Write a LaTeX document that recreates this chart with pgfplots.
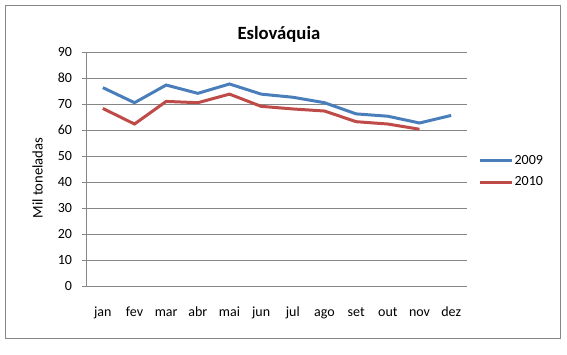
\documentclass[border=0pt]{standalone}
\usepackage{pgfplots}
\pgfplotsset{compat=1.18}
\usepackage{fontspec}
\setmainfont{Carlito}
\definecolor{exblue}{RGB}{74,126,187}
\definecolor{exred}{RGB}{190,75,72}
\definecolor{exgrey}{RGB}{134,134,134}
\begin{document}
\begin{tikzpicture}[x=0.75pt,y=0.75pt]
\useasboundingbox (0,0) rectangle (567,354);
\draw[exgrey, line width=0.75pt] (5,16) rectangle (560,348);
\begin{axis}[
  at={(87*0.75pt,68*0.75pt)}, anchor=south west,
  scale only axis, width=285pt, height=175.5pt,
  xmin=-0.5, xmax=11.5, ymin=0, ymax=90,
  ytick={0,10,...,90},
  xtick={0,...,11},
  xticklabels={jan,fev,mar,abr,mai,jun,jul,ago,set,out,nov,dez},
  major x tick style={draw=none},
  extra x ticks={-0.5,0.5,...,11.5},
  extra x tick labels={},
  extra x tick style={major tick length=3.5pt, tick align=outside, grid=none, tick style={exgrey, line width=0.75pt}},
  axis x line*=bottom, axis y line*=left,
  axis line style={exgrey, line width=0.75pt, -},
  tick align=outside, major tick length=3.75pt,
  tick style={exgrey, line width=0.75pt},
  ymajorgrids, grid style={exgrey, line width=0.75pt},
  /pgf/number format/assume math mode=true,
  tick label style={font=\fontsize{10.5}{12}\selectfont, text=black},
  xticklabel style={yshift=-8pt, text height=1.6ex, text depth=0.4ex},
  yticklabel style={xshift=-4pt},
  title={Eslováquia},
  title style={font=\fontsize{14}{16}\selectfont\bfseries, at={(axis description cs:0.505,1.02)}, anchor=base},
  ylabel={Mil toneladas},
  ylabel style={font=\fontsize{11}{13}\selectfont, at={(axis description cs:-0.13,0.4615)}, anchor=center},
  legend style={draw=none, fill=none, at={(axis description cs:1.029,0.489)}, anchor=west, font=\fontsize{10.5}{12}\selectfont, row sep=6pt, inner sep=0pt, nodes={inner sep=1pt}},
  legend cell align=left,
  legend image code/.code={\draw[#1] (0pt,0pt) -- (24pt,0pt);},
  clip=false,
]
\addplot[exblue, line width=2.25pt] coordinates {
(0,76.3) (1,70.5) (2,77.3) (3,74.1) (4,77.7) (5,73.8) (6,72.6) (7,70.5) (8,66.2) (9,65.3) (10,62.7) (11,65.6)};
\addlegendentry{2009}
\addplot[exred, line width=2.25pt] coordinates {
(0,68.3) (1,62.3) (2,71.0) (3,70.5) (4,73.8) (5,69.1) (6,68.1) (7,67.3) (8,63.2) (9,62.3) (10,60.3)};
\addlegendentry{2010}
\end{axis}
\end{tikzpicture}
\end{document}
